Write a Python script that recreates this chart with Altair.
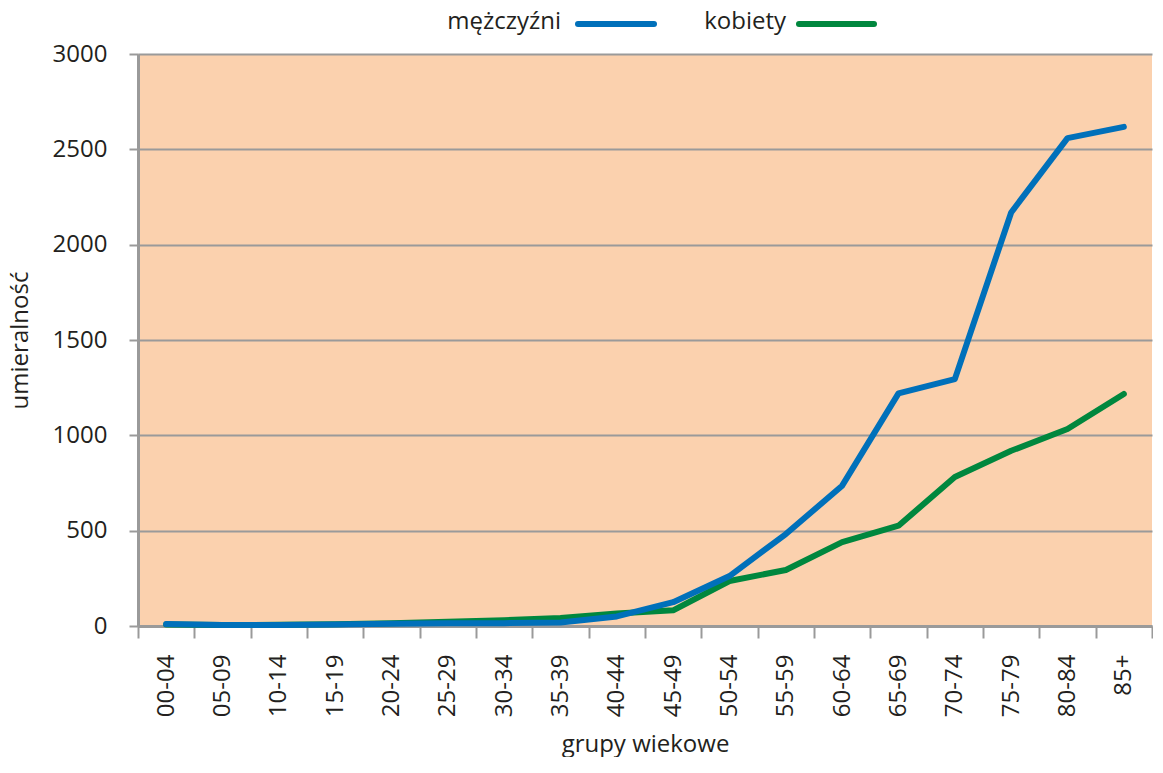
import altair as alt
import pandas as pd

groups = ["00-04", "05-09", "10-14", "15-19", "20-24", "25-29", "30-34", "35-39",
          "40-44", "45-49", "50-54", "55-59", "60-64", "65-69", "70-74", "75-79",
          "80-84", "85+"]
men = [10, 5, 5, 8, 12, 14, 15, 18, 50, 125, 262, 482, 736, 1220, 1295, 2169, 2559, 2618]
women = [8, 5, 6, 9, 14, 22, 30, 42, 65, 82, 236, 294, 440, 526, 781, 919, 1033, 1217]
series_names = ["mężczyźni", "kobiety"]
series_colors = ["#0070BA", "#00873E"]
y_ticks = [0, 500, 1000, 1500, 2000, 2500, 3000]

df = pd.DataFrame({"grupa": groups, "men": men, "women": women})

FONT = "Open Sans"
TXT = "#231F20"
GRAY = "#9A9A9A"

x = alt.X(
    "grupa:N", sort=groups,
    scale=alt.Scale(type="band", paddingInner=0, paddingOuter=0),
    axis=alt.Axis(
        title="grupy wiekowe", tickBand="extent", labelAngle=-90,
        labelFontSize=24, labelColor=TXT, labelFont=FONT, labelPadding=16,
        domainColor=GRAY, domainWidth=3, tickColor=GRAY, tickWidth=2, tickSize=12,
        grid=False, titleFontSize=24, titleFontWeight="normal", titleColor=TXT,
        titleFont=FONT, titlePadding=16,
    ),
)
y_axis = alt.Axis(
    title="umieralność", values=y_ticks, format="d", grid=True, gridColor=GRAY, gridWidth=2,
    domainColor=GRAY, domainWidth=3, tickColor=GRAY, tickWidth=2, tickSize=9,
    labelFontSize=24, labelColor=TXT, labelFont=FONT, labelPadding=22,
    titleFontSize=24, titleFontWeight="normal", titleColor=TXT, titleFont=FONT,
    titlePadding=20,
)

base = alt.Chart(df)
green_line = base.mark_line(color=series_colors[1], strokeWidth=6, strokeCap="round", strokeJoin="round").encode(
    x=x, y=alt.Y("women:Q", scale=alt.Scale(domain=[0, 3000]), axis=y_axis)
)
blue_line = base.mark_line(color=series_colors[0], strokeWidth=6, strokeCap="round", strokeJoin="round").encode(
    x=x, y=alt.Y("men:Q", scale=alt.Scale(domain=[0, 3000]))
)

leg_df1 = pd.DataFrame({"label": [series_names[0]]})
leg_df2 = pd.DataFrame({"label": [series_names[1]]})
leg_text1 = alt.Chart(leg_df1).mark_text(align="right", baseline="middle", fontSize=24, font=FONT, color=TXT).encode(
    text="label:N", x=alt.value(423), y=alt.value(-32))
leg_rule1 = alt.Chart(leg_df1).mark_rule(color=series_colors[0], strokeWidth=6, strokeCap="round").encode(
    x=alt.value(440), x2=alt.value(516), y=alt.value(-30))
leg_text2 = alt.Chart(leg_df2).mark_text(align="right", baseline="middle", fontSize=24, font=FONT, color=TXT).encode(
    text="label:N", x=alt.value(648), y=alt.value(-32))
leg_rule2 = alt.Chart(leg_df2).mark_rule(color=series_colors[1], strokeWidth=6, strokeCap="round").encode(
    x=alt.value(661), x2=alt.value(736), y=alt.value(-30))

chart = alt.layer(green_line, blue_line, leg_text1, leg_rule1, leg_text2, leg_rule2).properties(
    width=1014, height=572,
    padding={"left": 0, "top": 2, "right": 0, "bottom": 0},
    background="white",
).configure_view(fill="#FBD1AE", stroke=None)

chart.save("out.html", embed_options={"renderer": "svg", "actions": False})
